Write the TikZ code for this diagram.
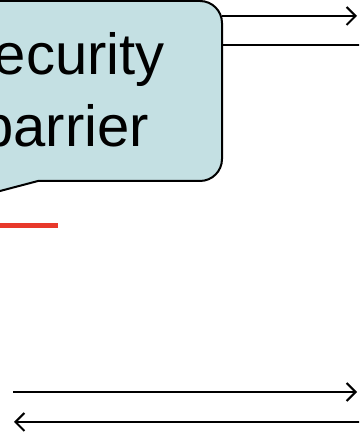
\documentclass[tikz,border=0pt]{standalone}
\usepackage{fontspec}
\setmainfont{Liberation Sans}
\usetikzlibrary{arrows.meta}
\definecolor{calloutfill}{RGB}{196,224,227}
\definecolor{redline}{RGB}{232,57,43}
\tikzset{
  calloutshape/.style={draw=black, line width=2pt, fill=calloutfill, line join=round},
  bigtext/.style={inner sep=0pt, font=\fontsize{58}{70}\selectfont},
  flow/.style={line width=2pt, -{Straight Barb[length=9pt,width=18pt,line width=2pt]}},
  plainline/.style={line width=2pt},
  redmark/.style={draw=redline, line width=5pt}
}
\begin{document}
\begin{tikzpicture}[x=1pt,y=1pt]
\useasboundingbox (0,0) rectangle (359,436);
\fill[white] (0,0) rectangle (359,436);
\clip (0,0) rectangle (359,436);
% callout
\draw[calloutshape] (-100,435) -- (200,435) arc[start angle=90,end angle=0,radius=22pt]
  -- (222,277) arc[start angle=0,end angle=-90,radius=22pt]
  -- (38,255) -- (0,245) -- (-60,229) -- (-100,229) -- cycle;
\node[bigtext, anchor=base east] (sec) at (165,361) {Security};
\node[bigtext, anchor=base east] (bar) at (149,289) {barrier};
% top connectors
\coordinate (t1s) at (222,420);
\coordinate (t1e) at (357,420);
\coordinate (t2s) at (222,391);
\coordinate (t2e) at (362,391);
\draw[flow] (t1s) -- (t1e);
\draw[plainline] (t2s) -- (t2e);
% red mark
\coordinate (r1) at (-5,210);
\coordinate (r2) at (58,210);
\draw[redmark] (r1) -- (r2);
% bottom connectors
\coordinate (b1s) at (13,44);
\coordinate (b1e) at (357,44);
\coordinate (b2s) at (362,14);
\coordinate (b2e) at (14,14);
\draw[flow] (b1s) -- (b1e);
\draw[flow] (b2s) -- (b2e);
\end{tikzpicture}
\end{document}
